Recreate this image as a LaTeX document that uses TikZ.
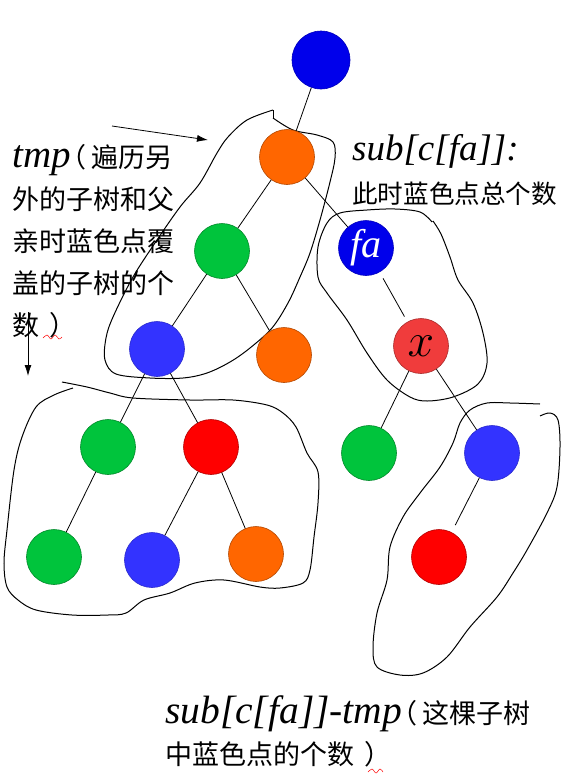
\documentclass[tikz,border=0pt]{standalone}
\usepackage{graphicx}
\usepackage{fontspec}
\newfontfamily\cjk{Noto Sans CJK SC}
\newfontfamily\cjkhalt{Noto Sans CJK SC}[RawFeature=+halt]
\newfontfamily\lserif{Liberation Serif}
\usetikzlibrary{arrows.meta}
\definecolor{cblueD}{RGB}{0,0,235}
\definecolor{cblue}{RGB}{51,51,255}
\definecolor{corange}{RGB}{255,102,0}
\definecolor{cgreen}{RGB}{0,196,60}
\definecolor{cred}{RGB}{255,0,0}
\definecolor{credL}{RGB}{240,60,60}
\newcommand{\lpar}{\kern2pt{\cjkhalt （}\kern0.18em}
\newcommand{\rpar}{\kern0.4em{\cjkhalt ）}}
\begin{document}
\begin{tikzpicture}[x=1pt,y=-1pt,
  dot/.style={circle, minimum size=55pt, inner sep=0pt, line width=0.6pt},
  bdot/.style={dot, fill=cblue, draw=cblue!80!black},
  bDdot/.style={dot, fill=cblueD, draw=cblueD!80!black},
  odot/.style={dot, fill=corange, draw=corange!70!black},
  gdot/.style={dot, fill=cgreen, draw=cgreen!70!black},
  rdot/.style={dot, fill=cred, draw=cred!70!black},
  rLdot/.style={dot, fill=credL, draw=credL!70!black},
  edge/.style={line width=0.8pt},
  blob/.style={line width=1pt, smooth, tension=0.55},
  arr/.style={line width=0.8pt, -{Latex[length=11pt,width=7pt]}},
  squig/.style={red, line width=0.5pt, smooth, tension=0.6}]
\useasboundingbox (0,0) rectangle (566,782);

% hand-drawn outlines
\draw[blob] plot coordinates {(273,118) (293,130) (317,135) (333,142) (335,158) (330,182) (320,220) (310,253) (300,277) (288,303) (272,328) (250,348) (230,362) (207,373) (183,378) (150,378) (116,374) (105,360) (106,338) (113,317) (133,277) (157,240) (180,207) (200,183) (217,153) (228,137) (247,120) (273,110)};
\draw[line width=1pt] (273,110) -- (273,118);
\draw[blob] plot coordinates {(432,222) (420,212) (395,209) (367,210) (340,213) (327,223) (318,247) (318,277) (327,293) (347,320) (367,353) (387,380) (410,397) (427,401) (453,397) (478,384) (487,363) (483,333) (473,303) (458,280) (450,257) (441,234) (433,221)};
\draw[blob] plot coordinates {(62,382) (87,387) (110,393) (133,398) (190,400) (233,400) (267,405) (283,413) (296,427) (307,453) (318,472) (318,503) (314,537) (310,570) (303,583) (280,588) (260,587) (224,580) (195,583) (170,593) (144,600) (126,613) (108,615) (72,615) (36,610) (18,600) (7,587) (4,563) (7,530) (14,470) (22,437) (36,407) (54,395) (73,388)};
\draw[blob] plot coordinates {(540,404) (510,403) (487,403) (470,410) (460,423) (453,443) (440,467) (420,493) (403,517) (390,547) (387,580) (377,613) (373,647) (377,667) (400,675) (423,673) (447,657) (470,627) (497,597) (513,573) (527,550) (547,513) (557,487) (560,447) (558,420) (550,413) (540,416)};

% tree nodes
\node[bDdot, minimum size=58pt] (root) at (321,60) {};
\node[odot] (o1) at (287,157) {};
\node[gdot] (g1) at (222,251) {};
\node[bDdot, text=white, font=\lserif\itshape\fontsize{40}{40}\selectfont] (fa) at (366,248) {fa};
\node[bdot] (b1) at (157,349) {};
\node[odot] (o2) at (284,355) {};
\node[rLdot, font=\fontsize{20.74}{21}\selectfont] (x) at (421,346) {\scalebox{2.3}{$x$}};
\node[gdot] (g2) at (108,447) {};
\node[rdot] (r2) at (211,447) {};
\node[gdot] (g3) at (369,453) {};
\node[bdot] (b3) at (492,453) {};
\node[gdot] (g4) at (54,557) {};
\node[bdot] (b4) at (152,560) {};
\node[odot] (o4) at (256,554) {};
\node[rdot] (r4) at (439,557) {};

% tree edges
\draw[edge] (root) -- (o1);
\draw[edge] (o1) -- (g1);
\draw[edge] (o1) -- (fa);
\draw[edge] (g1) -- (b1);
\draw[edge] (g1) -- (o2);
\draw[edge, shorten <=7pt, shorten >=6pt] (fa) -- (x);
\draw[edge] (b1) -- (g2);
\draw[edge] (b1) -- (r2);
\draw[edge] (x) -- (g3);
\draw[edge] (x) -- (b3);
\draw[edge] (g2) -- (g4);
\draw[edge] (r2) -- (b4);
\draw[edge] (r2) -- (o4);
\draw[edge, shorten >=8pt] (b3) -- (r4);

% texts
\node[anchor=base west, align=left, inner sep=0pt, font=\cjk\fontsize{27}{42}\selectfont] (tmptxt) at (12,335)
  {{\lserif\itshape\fontsize{39}{42}\selectfont tmp}\lpar 遍历另\\外的子树和父\\亲时蓝色点覆\\盖的子树的个\\数\rpar};
\node[anchor=base west, inner sep=0pt, font=\lserif\itshape\fontsize{37}{37}\selectfont] (subtxt) at (352,160) {sub[c[fa]]:};
\node[anchor=base west, inner sep=0pt, font=\cjk\fontsize{25.6}{30}\selectfont] (cnttxt) at (352,203) {此时蓝色点总个数};
\node[anchor=base west, align=left, inner sep=0pt, font=\cjk\fontsize{27}{41}\selectfont] (bottxt) at (165,764)
  {{\lserif\itshape\fontsize{39.5}{41}\selectfont sub[c[fa]]-tmp}\lpar 这棵子树\\中蓝色点的个数\rpar};

% arrows
\coordinate (a1s) at (112,126);
\coordinate (a1e) at (208,140);
\draw[arr] (a1s) -- (a1e);
\coordinate (a2s) at (28,312);
\coordinate (a2e) at (28,376);
\draw[arr] (a2s) -- (a2e);

% spell-check squiggles
\draw[squig] plot coordinates {(43,338) (47,335) (51,339) (55,335) (59,339) (62,337)};
\draw[squig] plot coordinates {(368,772) (372,769) (376,773) (380,769) (383,772)};
\end{tikzpicture}
\end{document}
